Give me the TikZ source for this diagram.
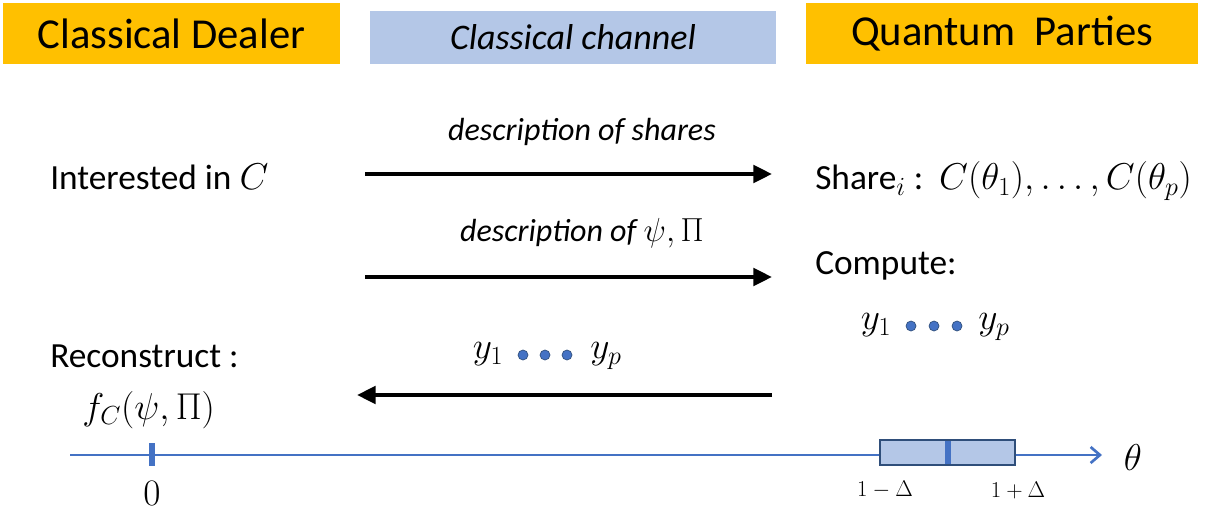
\documentclass[tikz,border=0pt]{standalone}
\usepackage{fix-cm}
\usepackage{fontspec}
\setmainfont{Carlito}
\usetikzlibrary{arrows.meta}
\definecolor{orangeh}{HTML}{FFC000}
\definecolor{lightb}{HTML}{B4C7E7}
\definecolor{axisb}{HTML}{4472C4}
\definecolor{darkb}{HTML}{2F4E7A}
\newcommand{\bigmath}[1]{{\fontsize{28}{32}\selectfont$#1$}}
\newcommand{\lblmath}[1]{{\fontsize{25}{28}\selectfont$#1$}}
\tikzset{
  header/.style={fill=orangeh, inner sep=0pt, font=\fontsize{32}{36}\selectfont},
  chan/.style={fill=lightb, inner sep=0pt, font=\fontsize{27}{32}\selectfont\itshape},
  body/.style={inner sep=0pt, font=\fontsize{26.5}{30}\selectfont},
  lbl/.style={inner sep=0pt, font=\fontsize{24}{28}\selectfont\itshape},
  msg/.style={line width=3pt, -{Triangle[length=14pt,width=13pt]}},
  dot/.style={circle, fill=axisb, draw=darkb, line width=0.5pt, inner sep=0pt, minimum size=7.5pt},
}
\begin{document}
\begin{tikzpicture}[x=0.75pt,y=-0.75pt]
\useasboundingbox (0,0) rectangle (1206,510);
% headers
\node[header, minimum width=337*0.75pt, minimum height=61*0.75pt] (dealer) at (171.5,34) {Classical Dealer};
\node[chan, minimum width=406*0.75pt, minimum height=53*0.75pt] (channel) at (573,37.5) {Classical channel};
\node[header, minimum width=392*0.75pt, minimum height=61*0.75pt] (parties) at (1002,34) {Quantum\ \ Parties};
% left texts
\node[body, anchor=west] (interested) at (50,177) {Interested in \bigmath{C}};
\node[body, anchor=west] (reconstruct) at (50,356) {Reconstruct :};
\node[body, anchor=west] (fc) at (82,410) {\bigmath{f_C(\psi,\Pi)}};
% right texts
\node[body, anchor=west] (share) at (815,181) {Share\bigmath{{}_i} :\ \ \bigmath{C(\theta_1),\ldots,C\bigl(\theta_p\bigr)}};
\node[body, anchor=west] (compute) at (815,266) {Compute:};
\node[body] (ry1) at (876,325) {\bigmath{y_1}};
\node[dot] (rd1) at (911,326) {};
\node[dot] (rd2) at (934,326) {};
\node[dot] (rd3) at (957,326) {};
\node[body] (ryp) at (994,327) {\bigmath{y_p}};
% arrows
\coordinate (a1s) at (365,174); \coordinate (a1e) at (772,174);
\coordinate (a2s) at (365,277); \coordinate (a2e) at (772,277);
\coordinate (a3s) at (772,395); \coordinate (a3e) at (357,395);
\draw[msg] (a1s) -- (a1e);
\draw[msg] (a2s) -- (a2e);
\draw[msg] (a3s) -- (a3e);
\node[lbl] (l1) at (582,132) {description of shares};
\node[lbl] (l2) at (582,233) {description of \lblmath{\psi,\Pi}};
\node[body] (my1) at (488,354) {\bigmath{y_1}};
\node[dot] (md1) at (523,355) {};
\node[dot] (md2) at (545,355) {};
\node[dot] (md3) at (567,355) {};
\node[body] (myp) at (606,356) {\bigmath{y_p}};
% axis
\coordinate (axs) at (70,455);
\coordinate (axe) at (1102,455);
\node[rectangle, fill=lightb, draw=darkb, line width=0.8pt, minimum width=135*0.75pt, minimum height=25*0.75pt, inner sep=0pt] (interval) at (947.5,452.5) {};
\draw[axisb, line width=2.2pt] (axs) -- (axs -| interval.west);
\draw[axisb, line width=2.2pt, -{Straight Barb[length=7pt,width=12pt,line width=2pt]}] (axe -| interval.east) -- (axe);
\draw[axisb, line width=5pt] (152,443) -- (152,466);
\draw[axisb, line width=5pt] (948,441) -- (948,464);
\node[body] (theta) at (1133,458) {\bigmath{\theta}};
\node[body] (zero) at (152,493) {\bigmath{0}};
\node[inner sep=0pt, font=\fontsize{17}{20}\selectfont] (lo) at (885,490) {$1-\Delta$};
\node[inner sep=0pt, font=\fontsize{17}{20}\selectfont] (hi) at (1018,490) {$1+\Delta$};
\end{tikzpicture}
\end{document}
